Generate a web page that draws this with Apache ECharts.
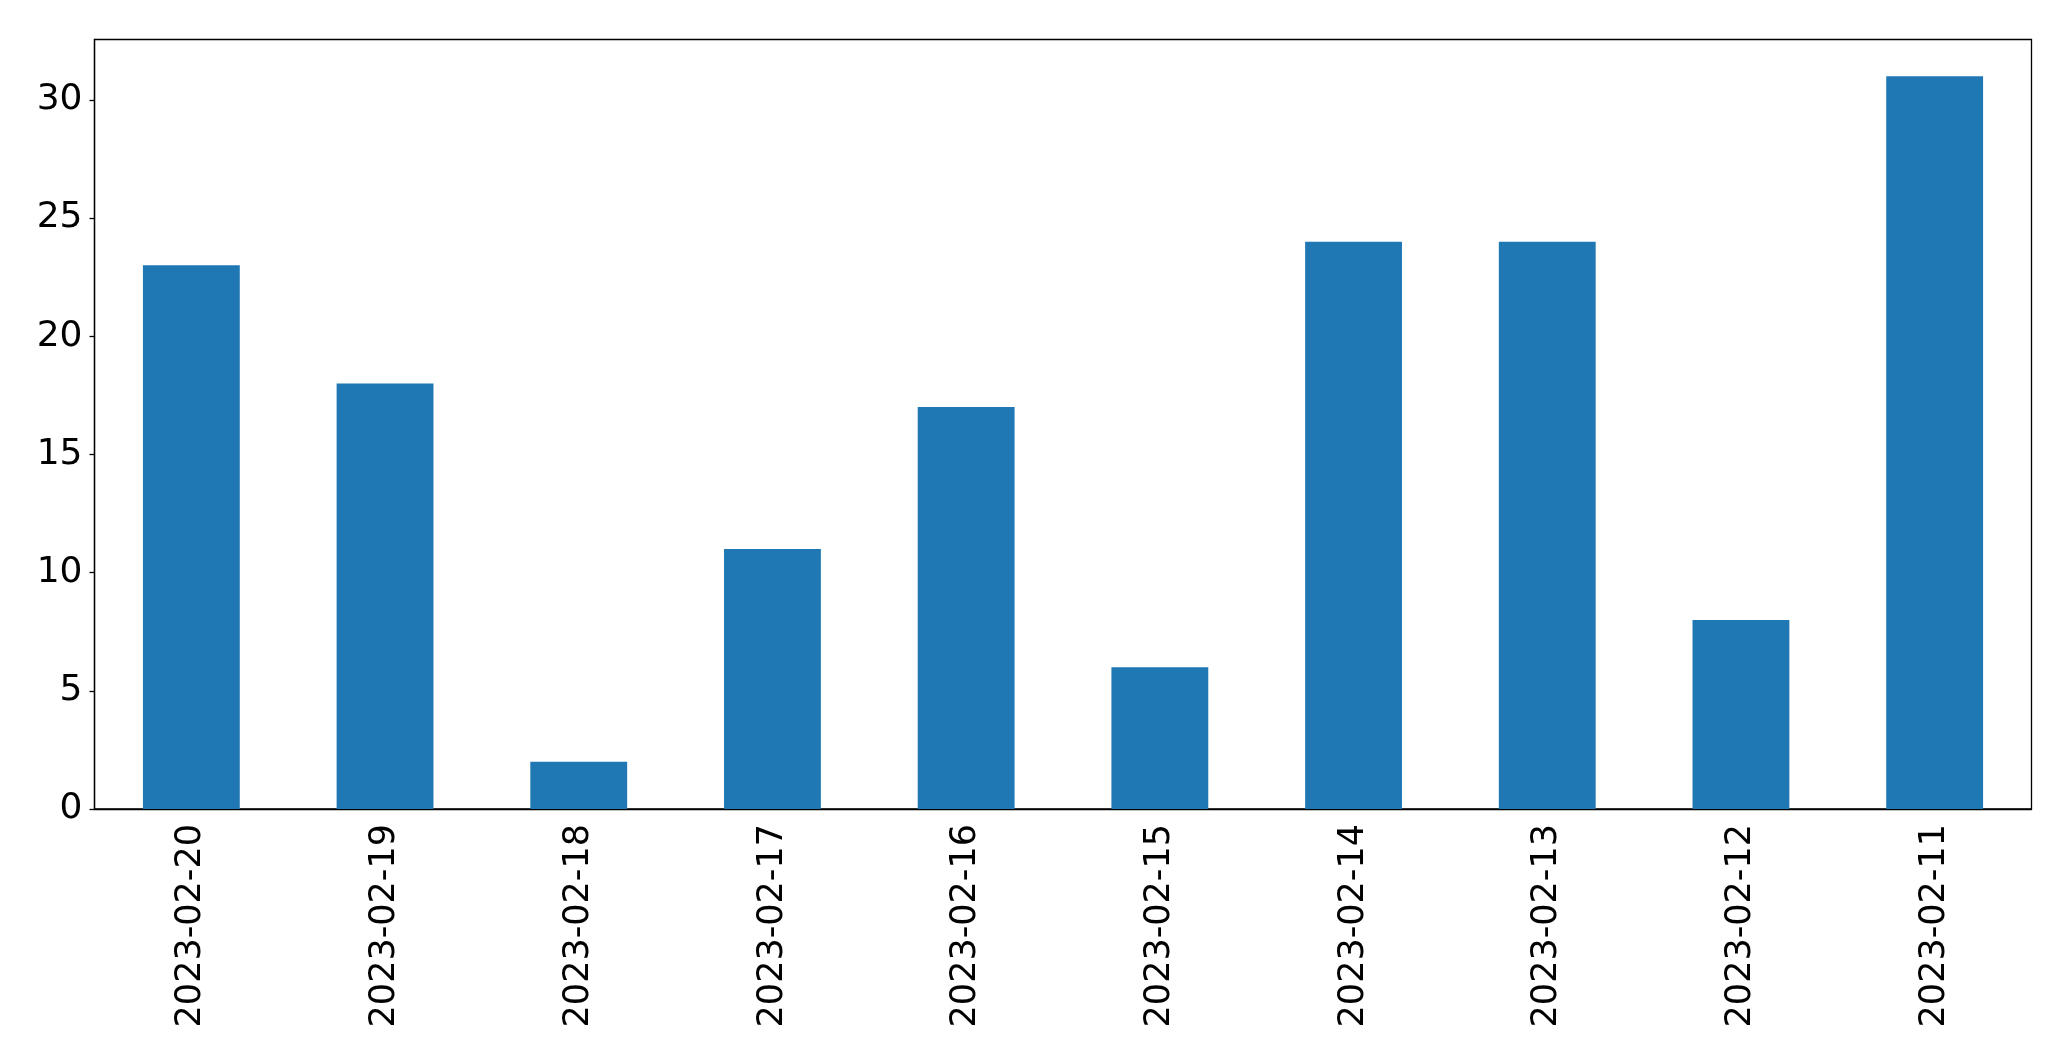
<!DOCTYPE html>
<html><head><meta charset="utf-8">
<script src="https://cdn.jsdelivr.net/npm/echarts@6/dist/echarts.min.js"></script>
<style>html,body{margin:0;padding:0;background:#fff}#c{width:2071px;height:1061px}</style>
</head><body><div id="c"></div>
<script>
const categories = ["2023-02-20","2023-02-19","2023-02-18","2023-02-17","2023-02-16","2023-02-15","2023-02-14","2023-02-13","2023-02-12","2023-02-11"];
const values = [23,18,2,11,17,6,24,24,8,31];
const yTicks = [0,5,10,15,20,25,30];
const yMax = 32.55;
const font = "DejaVu Sans";
const chart = echarts.init(document.getElementById('c'), null, {renderer:'canvas'});
chart.setOption({
  animation:false,
  backgroundColor:'#fff',
  grid:{left:94.5,right:39.5,top:39.5,bottom:252,show:true,borderColor:'#000',borderWidth:1.3,backgroundColor:'transparent',containLabel:false},
  xAxis:{type:'category',data:categories,boundaryGap:true,
    axisLine:{lineStyle:{color:'#000',width:1.3}},
    axisTick:{alignWithLabel:true,length:5,lineStyle:{color:'#000',width:1.3}},
    axisLabel:{rotate:90,interval:0,margin:15,color:'#000',fontSize:35,fontFamily:font},
    splitLine:{show:false}},
  yAxis:{type:'value',min:0,max:yMax,
    axisLine:{show:true,lineStyle:{color:'#000',width:1.3}},
    axisTick:{show:true,length:5,customValues:yTicks,lineStyle:{color:'#000',width:1.3}},
    axisLabel:{customValues:yTicks,margin:12,color:'#000',fontSize:36,fontFamily:font},
    splitLine:{show:false}},
  series:[{type:'bar',data:values,barWidth:'50%',itemStyle:{color:'#1f77b4'}}]
});
</script></body></html>
